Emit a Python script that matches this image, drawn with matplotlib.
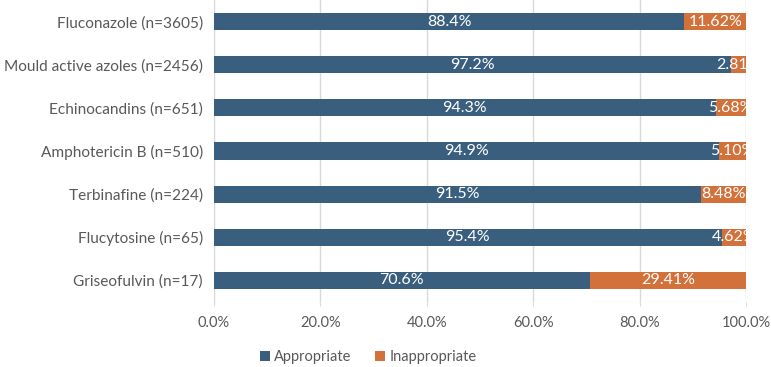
import matplotlib.pyplot as plt
from matplotlib.ticker import FuncFormatter

categories = ["Fluconazole (n=3605)", "Mould active azoles (n=2456)", "Echinocandins (n=651)",
              "Amphotericin B (n=510)", "Terbinafine (n=224)", "Flucytosine (n=65)",
              "Griseofulvin (n=17)"]
appropriate = [88.4, 97.2, 94.3, 94.9, 91.5, 95.4, 70.6]
inappropriate = [11.62, 2.81, 5.68, 5.10, 8.48, 4.62, 29.41]

blue = "#3a5f7e"
orange = "#d2713a"
grey_text = "#595959"

plt.rcParams["font.family"] = ["Lato", "DejaVu Sans"]

fig = plt.figure(figsize=(7.71, 3.67), dpi=100)
ax = fig.add_axes([214 / 771, 1 - 302 / 367, 532 / 771, 302 / 367])

y = list(range(len(categories)))
ax.barh(y, appropriate, height=0.4, color=blue, label="Appropriate", zorder=3)
ax.barh(y, inappropriate, left=appropriate, height=0.4, color=orange,
        label="Inappropriate", zorder=3)

for i in y:
    ax.text(appropriate[i] / 2, i, f"{appropriate[i]:.1f}%", ha="center", va="center",
            color="white", fontsize=11.5, zorder=4, clip_on=True)
    ax.text(appropriate[i] + inappropriate[i] / 2, i, f"{inappropriate[i]:.2f}%",
            ha="center", va="center", color="white", fontsize=11.5, zorder=4, clip_on=True)

ax.set_xlim(0, 100)
ax.set_ylim(len(categories) - 0.5, -0.5)
ax.set_yticks(y)
ax.set_yticklabels(categories, fontsize=11.1, color=grey_text)
ax.set_xticks([0, 20, 40, 60, 80, 100])
ax.xaxis.set_major_formatter(FuncFormatter(lambda v, _: f"{v:.1f}%"))
ax.tick_params(axis="x", colors="#d9d9d9", labelcolor=grey_text, labelsize=10.5,
               length=3, pad=7)
ax.tick_params(axis="y", length=0, pad=8)
ax.grid(axis="x", color="#d9d9d9", linewidth=1, zorder=0)
for side in ["top", "right", "bottom"]:
    ax.spines[side].set_visible(False)
ax.spines["left"].set_color("#d9d9d9")

handles, labels = ax.get_legend_handles_labels()
fig.legend(handles, labels, loc="center", bbox_to_anchor=(368 / 771, 1 - 357 / 367),
           ncol=2, frameon=False, fontsize=10.5, handlelength=0.7, handleheight=0.7,
           handletextpad=0.3, columnspacing=1.6, labelcolor=grey_text,
           borderpad=0, borderaxespad=0)

fig.savefig("out.png", dpi=100, facecolor="white")
